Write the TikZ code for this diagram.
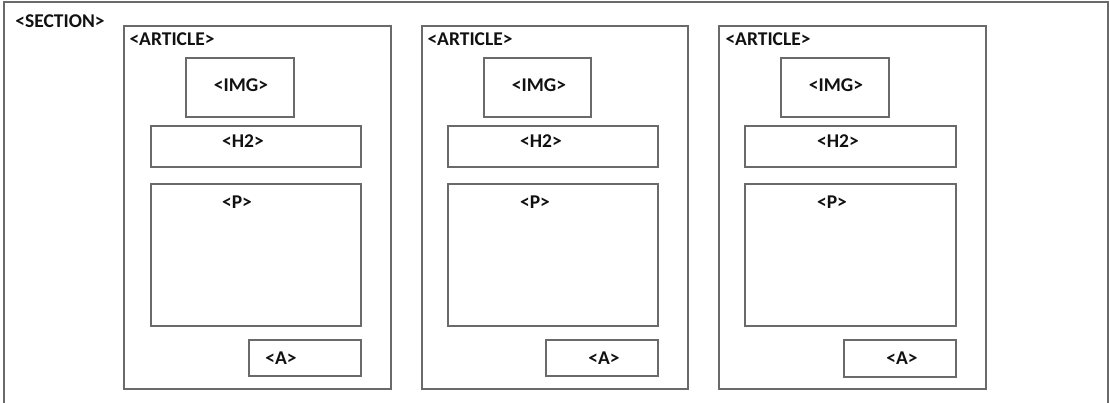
\documentclass[tikz,border=0pt]{standalone}
\usepackage{fontspec}
\setmainfont{Carlito}
\definecolor{linegray}{HTML}{6A6A6A}
\definecolor{txt}{HTML}{111111}
\tikzset{
  box/.style={draw=linegray, line width=1.7pt, inner sep=0pt, anchor=north west},
  lbl/.style={inner sep=0pt, text=txt, font=\fontsize{19.5}{20}\selectfont\bfseries, anchor=center},
}
\begin{document}
\begin{tikzpicture}[x=1pt,y=-1pt]
\useasboundingbox (0,0) rectangle (1110,403);
% section
\coordinate (secbl) at (4,404);
\coordinate (sectl) at (4,2);
\coordinate (secbr) at (1108,404);
\draw[draw=linegray, line width=1.7pt] (secbl) -- (sectl) -| (secbr);
\node[lbl] (sectxt) at (60,21) {<SECTION>};
% article 1
\node[box, minimum width=267pt, minimum height=363pt] (art1) at (123,25) {};
\node[lbl] (art1txt) at (172,39) {<ARTICLE>};
\node[box, minimum width=108pt, minimum height=59pt] (img1) at (185,57) {};
\node[lbl] (img1txt) at (241,85) {<IMG>};
\node[box, minimum width=210pt, minimum height=41pt] (h21) at (150,125) {};
\node[lbl] (h21txt) at (243,141) {<H2>};
\node[box, minimum width=210pt, minimum height=142pt] (p1) at (150,183) {};
\node[lbl] (p1txt) at (237,202) {<P>};
\node[box, minimum width=112pt, minimum height=36pt] (a1) at (248,339) {};
\node[lbl] (a1txt) at (281,358) {<A>};
% article 2
\node[box, minimum width=266pt, minimum height=363pt] (art2) at (421,25) {};
\node[lbl] (art2txt) at (470,39) {<ARTICLE>};
\node[box, minimum width=107pt, minimum height=59pt] (img2) at (483,57) {};
\node[lbl] (img2txt) at (539,85) {<IMG>};
\node[box, minimum width=210pt, minimum height=41pt] (h22) at (447,125) {};
\node[lbl] (h22txt) at (541,141) {<H2>};
\node[box, minimum width=210pt, minimum height=142pt] (p2) at (447,183) {};
\node[lbl] (p2txt) at (535,202) {<P>};
\node[box, minimum width=112pt, minimum height=36pt] (a2) at (545,339) {};
\node[lbl] (a2txt) at (604,358) {<A>};
% article 3
\node[box, minimum width=267pt, minimum height=363pt] (art3) at (718,25) {};
\node[lbl] (art3txt) at (768,39) {<ARTICLE>};
\node[box, minimum width=108pt, minimum height=59pt] (img3) at (780,57) {};
\node[lbl] (img3txt) at (836,85) {<IMG>};
\node[box, minimum width=211pt, minimum height=41pt] (h23) at (744,125) {};
\node[lbl] (h23txt) at (838,141) {<H2>};
\node[box, minimum width=211pt, minimum height=142pt] (p3) at (744,183) {};
\node[lbl] (p3txt) at (832,202) {<P>};
\node[box, minimum width=112pt, minimum height=37pt] (a3) at (843,339) {};
\node[lbl] (a3txt) at (902,358) {<A>};
\end{tikzpicture}
\end{document}
